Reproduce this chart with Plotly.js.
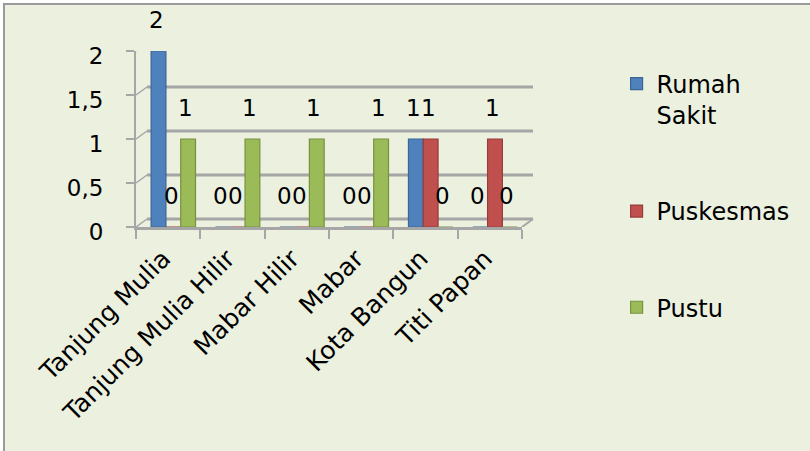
<!DOCTYPE html>
<html><head><meta charset="utf-8">
<script src="https://cdn.plot.ly/plotly-3.0.1.min.js"></script>
<style>
html,body{margin:0;padding:0;background:#fff;}
#wrap{position:relative;width:810px;height:451px;overflow:hidden;}
#chart{position:absolute;left:0;top:0;width:810px;height:451px;}
.edge{position:absolute;pointer-events:none;}
</style></head><body>
<div id="wrap"><div id="chart"></div>
<div class="edge" style="left:0;top:0;width:810px;height:3px;background:#fff"></div>
<div class="edge" style="left:0;top:0;width:3px;height:451px;background:#fff"></div>
<div class="edge" style="left:3px;top:3px;width:807px;height:2px;background:#9a9a9a"></div>
<div class="edge" style="left:3px;top:3px;width:2px;height:448px;background:#9a9a9a"></div>
</div>
<script>
// ---- data ----
const categories = ['Tanjung Mulia', 'Tanjung Mulia Hilir', 'Mabar Hilir', 'Mabar', 'Kota Bangun', 'Titi Papan'];
const seriesNames = ['Rumah<br>Sakit', 'Puskesmas', 'Pustu'];
const rumahSakit = [2, 0, 0, 0, 1, 0];
const puskesmas = [0, 0, 0, 0, 1, 1];
const pustu = [1, 1, 1, 1, 0, 0];
const yTicks = [0, 0.5, 1, 1.5, 2];
const yTickLabels = ['0', '0,5', '1', '1,5', '2'];

// ---- style ----
const seriesValues = [rumahSakit, puskesmas, pustu];
const fills = ['#4F81BD', '#C0504D', '#9BBB59'];
const edges = ['#3A6595', '#963C3A', '#77923F'];
const barWidth = 0.23;
const barOffsets = [-0.265, -0.035, 0.195];
const labelShifts = [-12, 3, 17];
const font = 'DejaVu Sans, sans-serif';
const gridColor = '#A6A6A6';

const traces = seriesValues.map((vals, s) => ({
  type: 'bar',
  name: seriesNames[s],
  x: categories,
  y: vals,
  width: barWidth,
  offset: barOffsets[s],
  legendgroup: 'g' + s,
  marker: {color: fills[s], line: {color: edges[s], width: 1.2}},
  hoverinfo: 'x+y'
}));

const annotations = [];
seriesValues.forEach((vals, s) => {
  vals.forEach((v, i) => {
    annotations.push({
      x: categories[i], y: v, xref: 'x', yref: 'y',
      text: String(v), showarrow: false,
      xshift: labelShifts[s], yshift: 31,
      font: {family: font, size: 23, color: '#000'}
    });
  });
});

const dx = 11 / 386; // depth offset as plot fraction
const dy = 8;        // depth offset in px
const shapes = [];
yTicks.forEach(v => {
  shapes.push({type: 'line', layer: 'below', xref: 'paper', yref: 'y', ysizemode: 'pixel', yanchor: v,
    x0: dx, x1: 1 + dx, y0: dy, y1: dy, line: {color: gridColor, width: 3}});
  shapes.push({type: 'line', layer: 'below', xref: 'paper', yref: 'y', ysizemode: 'pixel', yanchor: v,
    x0: 0, x1: dx, y0: 0, y1: dy, line: {color: gridColor, width: 1.5}});
});
shapes.push({type: 'line', layer: 'below', xref: 'paper', yref: 'y', ysizemode: 'pixel', yanchor: yTicks[0],
  x0: 1, x1: 1 + dx, y0: 0, y1: dy, line: {color: gridColor, width: 2}});

const layout = {
  width: 810, height: 451,
  margin: {l: 136, r: 288, t: 51, b: 224, pad: 0},
  paper_bgcolor: '#ECF0DF',
  plot_bgcolor: 'rgba(0,0,0,0)',
  font: {family: font, size: 23, color: '#000'},
  barmode: 'group',
  showlegend: true,
  legend: {
    x: 1.245, xanchor: 'left', y: 0.94, yanchor: 'top',
    font: {family: font, size: 24, color: '#000'},
    bgcolor: 'rgba(0,0,0,0)', tracegroupgap: 62, valign: 'top',
    traceorder: 'grouped', itemclick: false, itemdoubleclick: false,
    maxheight: 420
  },
  xaxis: {
    type: 'category', range: [-0.5, 5.5], tickson: 'boundaries',
    ticks: 'outside', ticklen: 9, tickwidth: 2, tickcolor: gridColor,
    showline: true, linecolor: gridColor, linewidth: 3,
    showgrid: false, zeroline: false, tickangle: -45,
    ticklabelshift: -5, ticklabelstandoff: 4,
    tickfont: {family: font, size: 25, color: '#000'},
    fixedrange: true
  },
  yaxis: {
    range: [0, 2], tickvals: yTicks, ticktext: yTickLabels,
    ticks: 'outside', ticklen: 8, tickwidth: 2, tickcolor: gridColor,
    showline: true, linecolor: gridColor, linewidth: 2,
    showgrid: false, zeroline: false,
    ticklabelshift: 5, ticklabelstandoff: 18,
    tickfont: {family: font, size: 23, color: '#000'},
    fixedrange: true
  },
  shapes: shapes,
  annotations: annotations
};

Plotly.newPlot('chart', traces, layout, {displayModeBar: false, staticPlot: true});
</script>
</body></html>
